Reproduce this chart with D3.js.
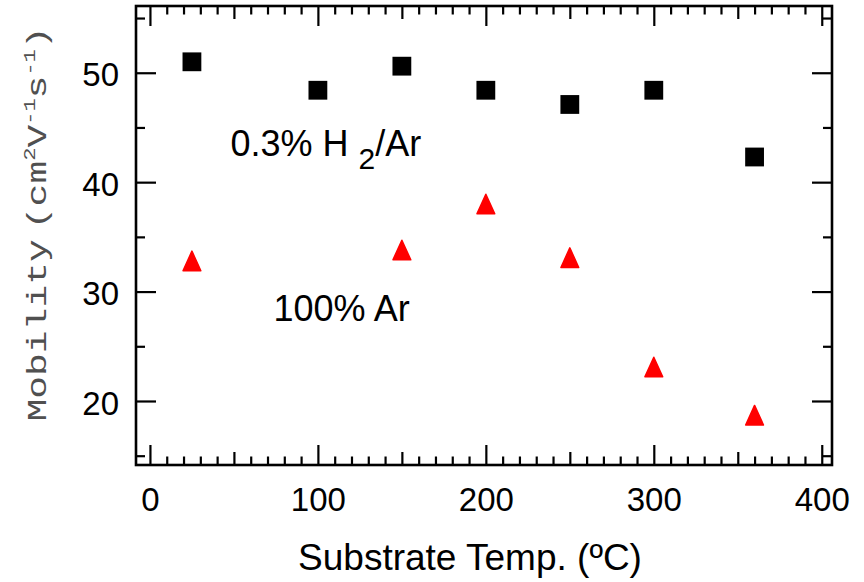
<!DOCTYPE html>
<html>
<head>
<meta charset="utf-8">
<script src="https://cdn.jsdelivr.net/npm/d3@7"></script>
<style>
  body { margin: 0; background: #fff; }
  text { font-family: "Liberation Sans", Arial, sans-serif; }
</style>
</head>
<body>
<div id="chart"></div>
<script>
// Mobility vs substrate temperature

const tempH2 = [25, 100, 150, 200, 250, 300, 360];
const mobilityH2 = [51.0, 48.4, 50.6, 48.4, 47.1, 48.4, 42.3];

const tempAr = [25, 150, 200, 250, 300, 360];
const mobilityAr = [32.8, 33.8, 38.0, 33.1, 23.1, 18.7];

const xMajorTicks = [0, 100, 200, 300, 400];
const yMajorTicks = [20, 30, 40, 50];

let chartWidth = 864;
let chartHeight = 582;
let plotLeft = 136, plotRight = 832, plotTop = 6, plotBottom = 465;

let x = d3.scaleLinear().domain([-8.3, 406.1]).range([plotLeft, plotRight]);
let y = d3.scaleLinear().domain([14.15, 56.1]).range([plotBottom, plotTop]);

let svg = d3.select("#chart")
    .append("svg")
    .attr("width", chartWidth)
    .attr("height", chartHeight);

svg.append("rect")
    .attr("width", chartWidth)
    .attr("height", chartHeight)
    .attr("fill", "#fff");

// minor / medium / major ticks, all pointing inward
const xMid = d3.range(50, 400, 100);
const xMinor = d3.range(0, 401, 10).filter(v => v % 50 !== 0);
const yMinor = d3.range(15, 56, 10);

function ticks(axis, transform, size) {
    let g = svg.append("g")
        .attr("transform", transform)
        .call(axis.tickSize(-size).tickFormat(""));
    g.select(".domain").remove();
    g.selectAll("line").attr("stroke", "#000").attr("stroke-width", 2.2);
    return g;
}

ticks(d3.axisBottom(x).tickValues(xMinor), `translate(0,${plotBottom})`, 8.5);
ticks(d3.axisTop(x).tickValues(xMinor), `translate(0,${plotTop})`, 8.5);
ticks(d3.axisBottom(x).tickValues(xMid), `translate(0,${plotBottom})`, 13);
ticks(d3.axisTop(x).tickValues(xMid), `translate(0,${plotTop})`, 13);
ticks(d3.axisBottom(x).tickValues(xMajorTicks), `translate(0,${plotBottom})`, 20);
ticks(d3.axisTop(x).tickValues(xMajorTicks), `translate(0,${plotTop})`, 20);
ticks(d3.axisLeft(y).tickValues(yMinor), `translate(${plotLeft},0)`, 9);
ticks(d3.axisRight(y).tickValues(yMinor), `translate(${plotRight},0)`, 9);
ticks(d3.axisLeft(y).tickValues(yMajorTicks), `translate(${plotLeft},0)`, 20);
ticks(d3.axisRight(y).tickValues(yMajorTicks), `translate(${plotRight},0)`, 20);

// tick labels
let xLabels = svg.append("g")
    .attr("transform", `translate(0,${plotBottom})`)
    .call(d3.axisBottom(x).tickValues(xMajorTicks).tickSize(0).tickPadding(23).tickFormat(d3.format("d")));
xLabels.select(".domain").remove();
xLabels.selectAll("text")
    .attr("font-family", "Liberation Sans, Arial, sans-serif")
    .attr("font-size", 33)
    .attr("fill", "#000");

let yLabels = svg.append("g")
    .attr("transform", `translate(${plotLeft},0)`)
    .call(d3.axisLeft(y).tickValues(yMajorTicks).tickSize(0).tickPadding(17).tickFormat(d3.format("d")));
yLabels.select(".domain").remove();
yLabels.selectAll("text")
    .attr("font-family", "Liberation Sans, Arial, sans-serif")
    .attr("font-size", 33)
    .attr("dy", "0.4em")
    .attr("fill", "#000");

// frame
svg.append("rect")
    .attr("x", plotLeft)
    .attr("y", plotTop)
    .attr("width", plotRight - plotLeft)
    .attr("height", plotBottom - plotTop)
    .attr("fill", "none")
    .attr("stroke", "#000")
    .attr("stroke-width", 2.6);

// data
svg.selectAll(".sq")
    .data(tempH2.map((t, i) => [t, mobilityH2[i]]))
    .enter()
    .append("rect")
    .attr("x", d => x(d[0]) - 9.4)
    .attr("y", d => y(d[1]) - 9.4)
    .attr("width", 18.8)
    .attr("height", 18.8)
    .attr("fill", "#000");

svg.selectAll(".tri")
    .data(tempAr.map((t, i) => [t, mobilityAr[i]]))
    .enter()
    .append("path")
    .attr("transform", d => `translate(${x(d[0])},${y(d[1])})`)
    .attr("d", "M0,-9.8L8.9,9.8L-8.9,9.8Z")
    .attr("fill", "#ff0000")
    .attr("stroke", "#ff0000")
    .attr("stroke-width", 1.5)
    .attr("stroke-linejoin", "round");

// annotations
let h2Label = svg.append("text")
    .attr("x", x(48))
    .attr("y", y(42.4))
    .attr("font-size", 36)
    .attr("fill", "#000");
h2Label.append("tspan").text("0.3% H");
h2Label.append("tspan").attr("dx", 10).attr("dy", 13).attr("font-size", 30).text("2");
h2Label.append("tspan").attr("dy", -13).text("/Ar");

svg.append("text")
    .attr("x", x(73.6))
    .attr("y", y(27.3))
    .attr("font-size", 36)
    .attr("fill", "#000")
    .text("100% Ar");

// axis titles
svg.append("text")
    .attr("x", 470)
    .attr("y", 570)
    .attr("text-anchor", "middle")
    .attr("font-size", 37)
    .attr("fill", "#000")
    .text("Substrate Temp. (ºC)");

let yTitle = svg.append("text")
    .attr("transform", "translate(46,224) rotate(-90) scale(1,0.72)")
    .attr("text-anchor", "middle")
    .attr("font-size", 38)
    .attr("fill", "#505050")
    .style("font-family", "'Liberation Mono', 'DejaVu Sans Mono', monospace");
yTitle.append("tspan").text("Mobility");
yTitle.append("tspan").attr("dx", 10).text("(cm");
yTitle.append("tspan").attr("dy", -15).attr("font-size", 22).text("2");
yTitle.append("tspan").attr("dy", 15).text("V");
yTitle.append("tspan").attr("dy", -15).attr("font-size", 22).text("-1");
yTitle.append("tspan").attr("dy", 15).text("s");
yTitle.append("tspan").attr("dy", -15).attr("font-size", 22).text("-1");
yTitle.append("tspan").attr("dy", 15).text(")");
</script>
</body>
</html>
